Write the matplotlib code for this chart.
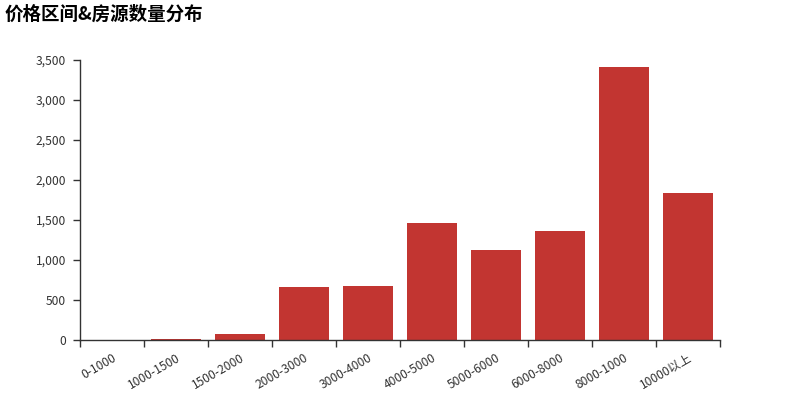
import matplotlib
matplotlib.use("Agg")
import matplotlib.pyplot as plt
from matplotlib.ticker import FuncFormatter, FixedLocator

plt.rcParams['font.family'] = ['Noto Sans CJK SC', 'DejaVu Sans']

categories = ["0-1000", "1000-1500", "1500-2000", "2000-3000", "3000-4000",
              "4000-5000", "5000-6000", "6000-8000", "8000-1000", "10000以上"]
counts = [1, 12, 75, 659, 679, 1466, 1125, 1366, 3408, 1833]

bar_color = "#c23531"
axis_color = "#333333"

fig = plt.figure(figsize=(8, 4), dpi=100)
ax = fig.add_axes([0.1, 0.15, 0.8, 0.7])

x = range(len(categories))
ax.bar(x, counts, width=0.78, color=bar_color)

ax.set_xlim(-0.5, len(categories) - 0.5)
ax.set_ylim(0, 3500)
ax.set_yticks(range(0, 3501, 500))
ax.yaxis.set_major_formatter(FuncFormatter(lambda v, p: f"{int(v):,}"))

# labels under the category centres, tick marks on the boundaries
ax.set_xticks(list(x))
ax.set_xticklabels(categories, rotation=30, ha="right", rotation_mode="anchor")
ax.xaxis.set_minor_locator(FixedLocator([i - 0.5 for i in range(len(categories) + 1)]))
ax.tick_params(axis="x", which="major", length=0, pad=8, labelsize=8.7, labelcolor=axis_color)
ax.tick_params(axis="x", which="minor", length=5, width=1, color=axis_color)
ax.tick_params(axis="y", length=5, width=1, color=axis_color, labelsize=8.7, labelcolor=axis_color, pad=5)

for side in ["top", "right"]:
    ax.spines[side].set_visible(False)
for side in ["left", "bottom"]:
    ax.spines[side].set_color(axis_color)
    ax.spines[side].set_linewidth(1)

fig.text(0.006, 0.965, "价格区间&房源数量分布", fontsize=13.3, fontweight="bold",
         color="black", ha="left", va="center")

fig.savefig("out.png", dpi=100)
